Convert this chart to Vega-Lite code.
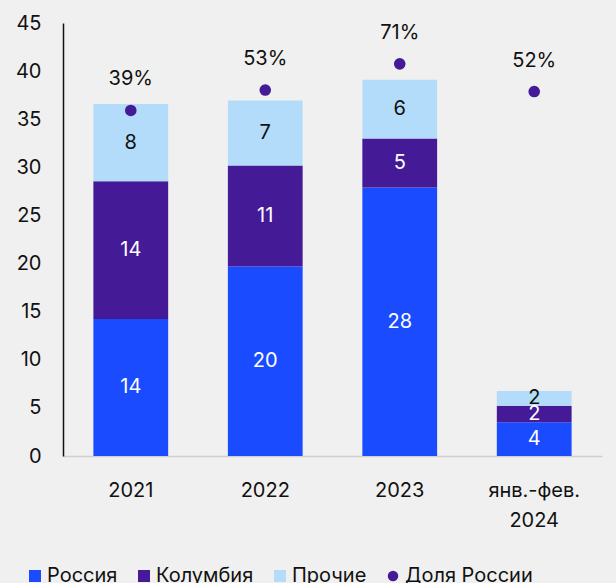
{
  "$schema": "https://vega.github.io/schema/vega-lite/v6.json",
  "autosize": "none",
  "width": 539,
  "height": 433,
  "padding": {"left": 63, "top": 23, "right": 14, "bottom": 127},
  "background": "#f0f0f0",
  "config": {
    "view": {"stroke": null},
    "font": "Inter",
    "axis": {"labelFont": "Inter", "labelFontSize": 20, "labelColor": "#111", "grid": false, "ticks": false, "title": null}
  },
  "datasets": {
    "bars": [
      {"year": "2021", "cat": "Россия", "v": 14.25, "label": "14"},
      {"year": "2021", "cat": "Колумбия", "v": 14.3, "label": "14"},
      {"year": "2021", "cat": "Прочие", "v": 8.04, "label": "8"},
      {"year": "2022", "cat": "Россия", "v": 19.7, "label": "20"},
      {"year": "2022", "cat": "Колумбия", "v": 10.5, "label": "11"},
      {"year": "2022", "cat": "Прочие", "v": 6.75, "label": "7"},
      {"year": "2023", "cat": "Россия", "v": 27.9, "label": "28"},
      {"year": "2023", "cat": "Колумбия", "v": 5.1, "label": "5"},
      {"year": "2023", "cat": "Прочие", "v": 6.1, "label": "6"},
      {"year": "янв.-фев.|2024", "cat": "Россия", "v": 3.5, "label": "4"},
      {"year": "янв.-фев.|2024", "cat": "Колумбия", "v": 1.73, "label": "2"},
      {"year": "янв.-фев.|2024", "cat": "Прочие", "v": 1.53, "label": "2"}
    ],
    "share": [
      {"year": "2021", "cat": "Доля России", "s": 39, "label": "39%"},
      {"year": "2022", "cat": "Доля России", "s": 53, "label": "53%"},
      {"year": "2023", "cat": "Доля России", "s": 71, "label": "71%"},
      {"year": "янв.-фев.|2024", "cat": "Доля России", "s": 52, "label": "52%"}
    ]
  },
  "encoding": {
    "x": {
      "field": "year", "type": "nominal", "sort": null,
      "scale": {"paddingInner": 0.444, "paddingOuter": 0.226},
      "axis": {"labelAngle": 0, "labelPadding": 24, "labelLineHeight": 30, "labelBaseline": "top",
               "labelExpr": "split(datum.label, '|')", "domainColor": "#cfcfcf", "domainWidth": 1.5}
    }
  },
  "layer": [
    {
      "data": {"name": "bars"},
      "transform": [
        {"calculate": "indexof(['Россия','Колумбия','Прочие'], datum.cat)", "as": "idx"},
        {"stack": "v", "groupby": ["year"], "sort": [{"field": "idx"}], "as": ["v0", "v1"]},
        {"calculate": "(datum.v0 + datum.v1) / 2", "as": "mid"}
      ],
      "layer": [
        {
          "mark": {"type": "bar"},
          "encoding": {
            "y": {"field": "v0", "type": "quantitative",
                  "scale": {"domain": [0, 45]},
                  "axis": {"values": [0,5,10,15,20,25,30,35,40,45], "labelPadding": 22, "domainColor": "#111", "domainWidth": 1.5}},
            "y2": {"field": "v1"},
            "color": {
              "field": "cat", "type": "nominal",
              "scale": {"domain": ["Россия", "Колумбия", "Прочие", "Доля России"],
                        "range": ["#1a4bff", "#451a96", "#b3dcfa", "#451a96"]},
              "legend": {
                "title": null, "orient": "none", "legendX": -38, "legendY": 543,
                "direction": "horizontal", "columns": 4, "columnPadding": 16,
                "labelFont": "Inter", "labelFontSize": 20, "labelColor": "#111", "labelOffset": 2,
                "symbolSize": 144, "symbolStrokeWidth": 0,
                "encode": {"symbols": {"update": {
                  "shape": {"signal": "datum.label == 'Доля России' ? 'circle' : 'square'"},
                  "size": {"signal": "datum.label == 'Доля России' ? 110 : 144"}
                }}}
              }
            }
          }
        },
        {
          "mark": {"type": "text", "fontSize": 20, "baseline": "middle"},
          "encoding": {
            "y": {"field": "mid", "type": "quantitative"},
            "text": {"field": "label"},
            "color": {"condition": {"test": "datum.cat == 'Прочие'", "value": "#111"}, "value": "#ffffff"}
          }
        }
      ]
    },
    {
      "data": {"name": "share"},
      "layer": [
        {
          "mark": {"type": "point", "filled": true, "size": 135, "opacity": 1},
          "encoding": {
            "y": {"field": "s", "type": "quantitative", "scale": {"domain": [-198, 99]}, "axis": null},
            "color": {"field": "cat", "type": "nominal"}
          }
        },
        {
          "mark": {"type": "text", "fontSize": 20, "baseline": "middle", "dy": -31, "color": "#111"},
          "encoding": {
            "y": {"field": "s", "type": "quantitative", "scale": {"domain": [-198, 99]}, "axis": null},
            "text": {"field": "label"}
          }
        }
      ],
      "resolve": {"scale": {"y": "shared"}}
    }
  ],
  "resolve": {"scale": {"y": "independent"}}
}
